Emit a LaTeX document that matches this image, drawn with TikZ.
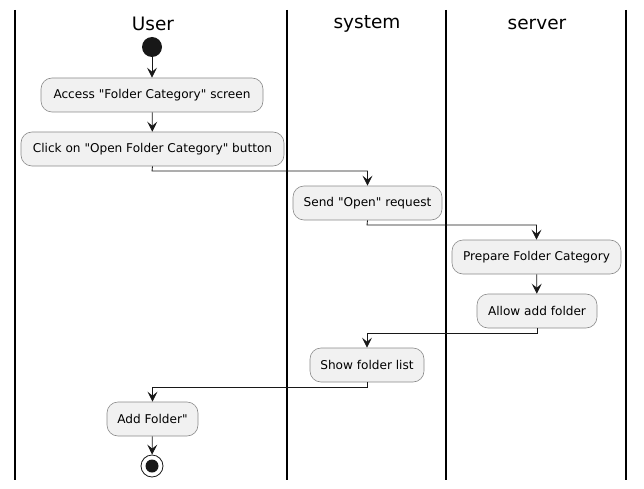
\documentclass[tikz,border=0pt]{standalone}
\usepackage{fontspec}
\newfontfamily\dvs{DejaVu Sans}
\usetikzlibrary{arrows.meta}
\definecolor{actfill}{HTML}{F1F1F1}
\definecolor{actdraw}{HTML}{8A8A8A}
\definecolor{ink}{HTML}{181818}
\begin{document}
\begin{tikzpicture}[x=1pt,y=-1pt,
  act/.style={draw=actdraw,fill=actfill,rounded corners=11pt,minimum height=34pt,inner xsep=4pt,font=\dvs\fontsize{12.1}{14}\selectfont,text=black,line width=0.6pt},
  flow/.style={draw=ink,line width=0.8pt,-{Stealth[length=10pt,width=10pt,inset=4pt]}},
  lane/.style={line width=1.4pt,draw=black},
  title/.style={font=\dvs\fontsize{18.5}{20}\selectfont,text=black}]
\useasboundingbox (0,0) rectangle (644,489);
% lanes
\draw[lane] (15,10) -- (15,480);
\draw[lane] (287,10) -- (287,480);
\draw[lane] (446,10) -- (446,480);
\draw[lane] (626,10) -- (626,480);
\node[title] (tUser) at (153,24) {User};
\node[title] (tSystem) at (367,24) {system};
\node[title] (tServer) at (537,24) {server};
% nodes
\node[circle,fill=ink,minimum size=20pt,inner sep=0pt] (start) at (152,47) {};
\node[act,minimum width=222pt] (n1) at (152,95) {Access "Folder Category" screen};
\node[act,minimum width=263pt] (n2) at (152.5,149) {Click on "Open Folder Category" button};
\node[act,minimum width=149pt] (n3) at (367.5,203) {Send "Open" request};
\node[act,minimum width=169pt] (n4) at (536.5,257) {Prepare Folder Category};
\node[act,minimum width=120pt] (n5) at (537,311) {Allow add folder};
\node[act,minimum width=114pt] (n6) at (367,365) {Show folder list};
\node[act,minimum width=91pt] (n7) at (152.5,419) {Add Folder"};
\node[circle,draw=ink,line width=0.8pt,fill=white,minimum size=22pt,inner sep=0pt] (stop) at (152,466) {};
\fill[ink] (stop.center) circle (6.5pt);
% coordinates for bends
\coordinate (b1) at (152,171);
\coordinate (b2) at (367,225);
\coordinate (b3) at (537,333);
\coordinate (b4) at (367,387);
% flows
\draw[flow] (start) -- (n1);
\draw[flow] (n1) -- (n2);
\draw[flow] (n2.south) -- (b1) -| (n3.north);
\draw[flow] (n3.south) -- (b2) -| (n4.north);
\draw[flow] (n4) -- (n5);
\draw[flow] (n5.south) -- (b3) -| (n6.north);
\draw[flow] (n6.south) -- (b4) -| (n7.north);
\draw[flow] (n7) -- (stop);
\end{tikzpicture}
\end{document}
